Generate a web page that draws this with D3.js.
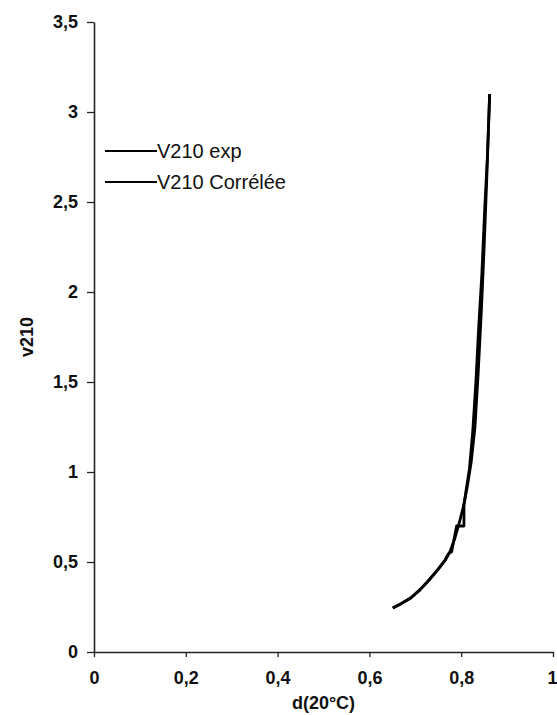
<!DOCTYPE html>
<html>
<head>
<meta charset="utf-8">
<script src="https://cdn.jsdelivr.net/npm/d3@7"></script>
<style>
  html, body { margin: 0; padding: 0; background: #fff; }
  text { font-family: "Liberation Sans", Arial, sans-serif; }
</style>
</head>
<body>
<div id="chart"></div>
<script>
  // values
  const xTicks = [0, 0.2, 0.4, 0.6, 0.8, 1];
  const yTicks = [0, 0.5, 1, 1.5, 2, 2.5, 3, 3.5];
  const seriesNames = ['V210 exp', 'V210 Corrélée'];

  const expD = [0.651, 0.67, 0.69, 0.71, 0.73, 0.75, 0.765, 0.772, 0.779, 0.79, 0.806, 0.806, 0.812, 0.818, 0.825, 0.832, 0.838, 0.845, 0.851, 0.857, 0.862];
  const expV = [0.244, 0.27, 0.30, 0.345, 0.40, 0.46, 0.51, 0.545, 0.556, 0.70, 0.70, 0.82, 0.92, 1.02, 1.22, 1.50, 1.80, 2.10, 2.45, 2.75, 3.10];

  const corD = [0.651, 0.67, 0.69, 0.71, 0.73, 0.75, 0.765, 0.776, 0.786, 0.796, 0.806, 0.814, 0.822, 0.83, 0.837, 0.844, 0.85, 0.856, 0.862];
  const corV = [0.244, 0.27, 0.30, 0.345, 0.40, 0.46, 0.51, 0.56, 0.63, 0.72, 0.82, 0.93, 1.06, 1.25, 1.55, 1.90, 2.25, 2.65, 3.10];

  const width = 557, height = 715;
  const margin = { left: 94, right: 4, top: 22, bottom: 63 };

  const svg = d3.select('#chart').append('svg')
    .attr('width', width)
    .attr('height', height);

  const x = d3.scaleLinear().domain([0, 1]).range([margin.left, width - margin.right]);
  const y = d3.scaleLinear().domain([0, 3.5]).range([height - margin.bottom, margin.top]);

  const fmt = d => String(d).replace('.', ',');

  const yAxis = svg.append('g')
    .attr('transform', `translate(${margin.left},0)`)
    .call(d3.axisLeft(y).tickValues(yTicks).tickFormat(fmt).tickSize(7).tickPadding(9).tickSizeOuter(0));

  const xAxis = svg.append('g')
    .attr('transform', `translate(0,${height - margin.bottom})`)
    .call(d3.axisBottom(x).tickValues(xTicks).tickFormat(fmt).tickSize(5).tickPadding(14).tickSizeOuter(0));

  [xAxis, yAxis].forEach(a => {
    a.select('.domain').attr('stroke', '#222').attr('stroke-width', 1.6);
    a.selectAll('.tick line').attr('stroke', '#222').attr('stroke-width', 1.3);
    a.selectAll('.tick text')
      .attr('fill', '#111')
      .attr('font-size', 18)
      .attr('font-weight', 'bold')
      .attr('font-family', '"Liberation Sans", Arial, sans-serif');
  });

  // last x label sits on the window edge, keep it inside
  xAxis.selectAll('.tick text')
    .filter(d => d === 1)
    .attr('text-anchor', 'end')
    .attr('dx', 4);

  svg.append('text')
    .attr('x', (x(0) + x(1)) / 2)
    .attr('y', 709)
    .attr('text-anchor', 'middle')
    .attr('font-size', 18)
    .attr('font-weight', 'bold')
    .attr('fill', '#111')
    .text('d(20°C)');

  svg.append('text')
    .attr('transform', `translate(33,${(y(0) + y(3.5)) / 2}) rotate(-90)`)
    .attr('text-anchor', 'middle')
    .attr('font-size', 18)
    .attr('font-weight', 'bold')
    .attr('fill', '#111')
    .text('v210');

  const line = d3.line().x(d => x(d[0])).y(d => y(d[1]));

  const series = [
    d3.zip(expD, expV),
    d3.zip(corD, corV),
  ];

  series.forEach(pts => {
    svg.append('path')
      .attr('d', line(pts))
      .attr('fill', 'none')
      .attr('stroke', '#000')
      .attr('stroke-width', 2.8)
      .attr('stroke-linejoin', 'round');
  });

  const legend = svg.append('g').attr('transform', 'translate(105,151)');
  seriesNames.forEach((name, i) => {
    const g = legend.append('g').attr('transform', `translate(0,${i * 31})`);
    g.append('line')
      .attr('x1', 0).attr('x2', 52)
      .attr('stroke', '#000')
      .attr('stroke-width', 2);
    g.append('text')
      .attr('x', 52)
      .attr('y', 7)
      .attr('font-size', 20)
      .attr('fill', '#111')
      .text(name);
  });
</script>
</body>
</html>
